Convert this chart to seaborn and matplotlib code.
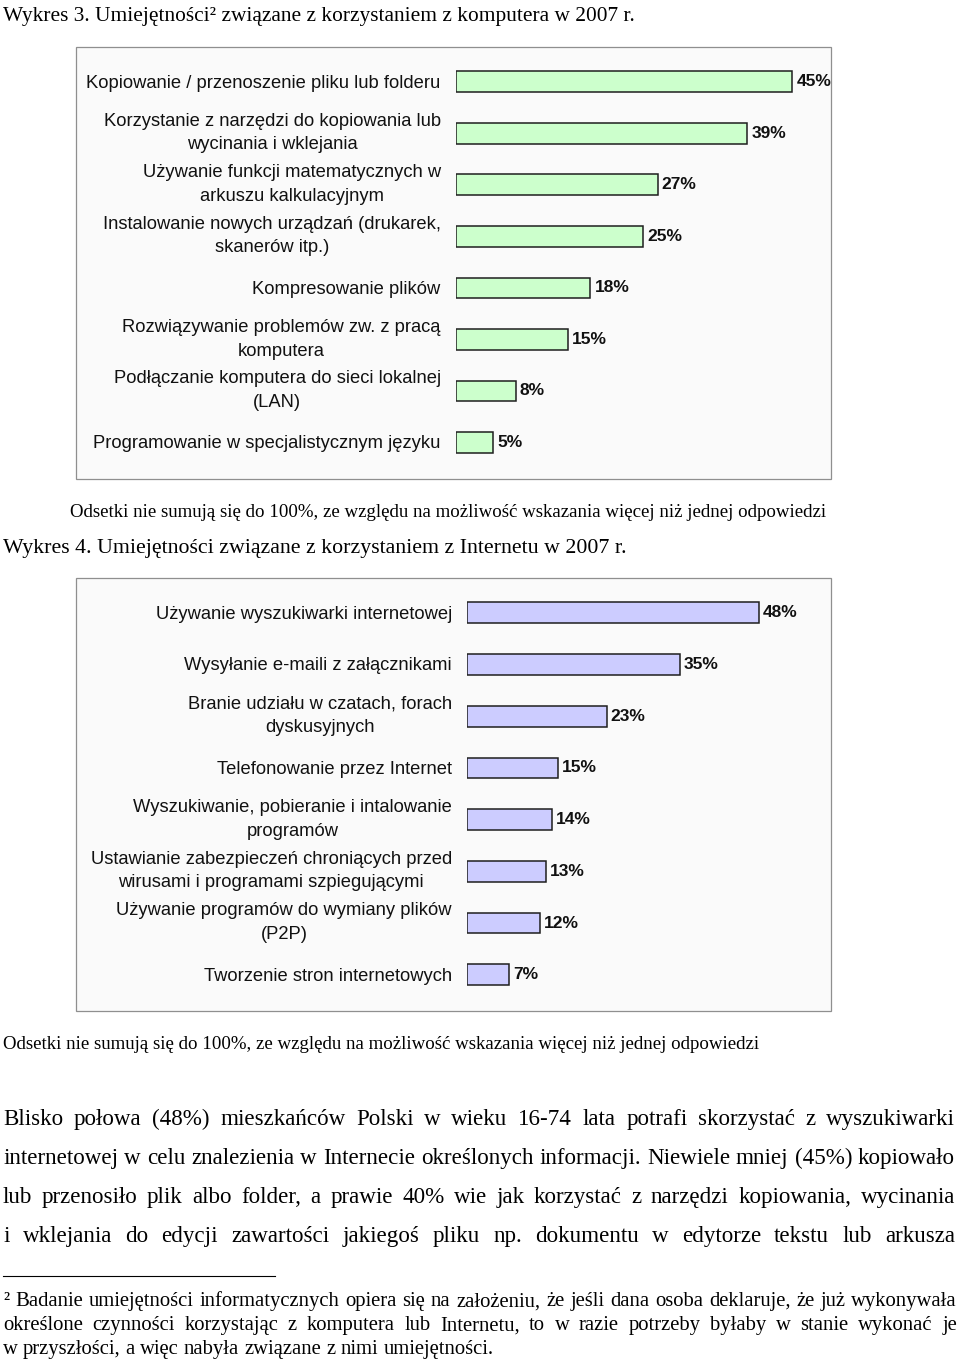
import matplotlib
matplotlib.use("Agg")
import matplotlib.pyplot as plt
import seaborn as sns
from matplotlib.patches import Rectangle
from matplotlib.lines import Line2D

# ---------------- data ----------------
comp_labels = [
    "Kopiowanie / przenoszenie pliku lub folderu",
    "Korzystanie z narzędzi do kopiowania lub\nwycinania i wklejania",
    "Używanie funkcji matematycznych w\narkuszu kalkulacyjnym",
    "Instalowanie nowych urządzań (drukarek,\nskanerów itp.)",
    "Kompresowanie plików",
    "Rozwiązywanie problemów zw. z pracą\nkomputera",
    "Podłączanie komputera do sieci lokalnej\n(LAN)",
    "Programowanie w specjalistycznym języku",
]
comp_values = [45, 39, 27, 25, 18, 15, 8, 5]

net_labels = [
    "Używanie wyszukiwarki internetowej",
    "Wysyłanie e-maili z załącznikami",
    "Branie udziału w czatach, forach\ndyskusyjnych",
    "Telefonowanie przez Internet",
    "Wyszukiwanie, pobieranie i intalowanie\nprogramów",
    "Ustawianie zabezpieczeń chroniących przed\nwirusami i programami szpiegującymi",
    "Używanie programów do wymiany plików\n(P2P)",
    "Tworzenie stron internetowych",
]
net_values = [48, 35, 23, 15, 14, 13, 12, 7]

title1 = "Wykres 3. Umiejętności² związane z korzystaniem z komputera w 2007 r."
title2 = "Wykres 4. Umiejętności związane z korzystaniem z Internetu w 2007 r."
note = "Odsetki nie sumują się do 100%, ze względu na możliwość wskazania więcej niż jednej odpowiedzi"
paragraph = [
    "Blisko połowa (48%) mieszkańców Polski w wieku 16-74 lata potrafi skorzystać z wyszukiwarki",
    "internetowej w celu znalezienia w Internecie określonych informacji. Niewiele mniej (45%) kopiowało",
    "lub przenosiło plik albo folder, a prawie 40% wie jak korzystać z narzędzi kopiowania, wycinania",
    "i wklejania do edycji zawartości jakiegoś pliku np. dokumentu w edytorze tekstu lub arkusza",
]
footnote = [
    "² Badanie umiejętności informatycznych opiera się na założeniu, że jeśli dana osoba deklaruje, że już wykonywała",
    "określone czynności korzystając z komputera lub Internetu, to w razie potrzeby byłaby w stanie wykonać je",
    "w przyszłości, a więc nabyła związane z nimi umiejętności.",
]

# ---------------- figure ----------------
W, H = 960, 1360
fig = plt.figure(figsize=(9.6, 13.6), dpi=100)
fig.patch.set_facecolor("white")
renderer = fig.canvas.get_renderer()

SERIF = "Liberation Serif"
SANS = "Liberation Sans"


def fx(x):
    return x / W


def fy(y):
    return 1 - y / H


def box(x0, y0, x1, y1):
    fig.patches.append(Rectangle((fx(x0), fy(y1)), (x1 - x0) / W, (y1 - y0) / H,
                                 transform=fig.transFigure, facecolor="#fafafa",
                                 edgecolor="#8f8f8f", lw=0.9, zorder=-5))


def text_width(s, size, family=SERIF, weight="normal"):
    t = fig.text(0, 0, s, fontsize=size, family=family, weight=weight)
    w = t.get_window_extent(renderer).width
    t.remove()
    return w


def fit_line(s, x0, x1, yc, family=SERIF):
    size = 10 * (x1 - x0) / text_width(s, 10, family)
    px = size * 100 / 72
    fig.text(fx(x0), fy(yc + 0.3 * px), s, fontsize=size, family=family, ha="left",
             va="baseline", color="black")
    return size


def justify(lines, x0, x1, ys, justified):
    target = x1 - x0
    size = min(10 * target / text_width(l, 10) for l, j in zip(lines, justified) if j) * 0.995
    px = size * 100 / 72
    space = text_width("a a", size) - text_width("aa", size)
    for line, y, j in zip(lines, ys, justified):
        words = line.split(" ")
        widths = [text_width(w, size) for w in words]
        gap = (target - sum(widths)) / (len(words) - 1) if j else space
        x = x0
        for w, wd in zip(words, widths):
            fig.text(fx(x), fy(y + 0.3 * px), w, fontsize=size, family=SERIF, ha="left",
                     va="baseline", color="black")
            x += wd + gap


def add_ax(x0, y0, x1, y1):
    return fig.add_axes([fx(x0), fy(y1), (x1 - x0) / W, (y1 - y0) / H])


def bar_chart(ax, labels, values, color, xmax, pad):
    sns.barplot(x=values, y=labels, orient="h", color=color, saturation=1,
                edgecolor="#1e1e1e", linewidth=1.1, width=0.40, ax=ax)
    ax.bar_label(ax.containers[0], labels=[f"{v}%" for v in values], padding=3,
                 fontsize=12.5, fontweight="bold", family=SANS, color="#111111")
    ax.set_xlim(0, xmax)
    ax.set_ylim(len(values) - 0.5, -0.5)
    ax.set_facecolor("none")
    for sp in ax.spines.values():
        sp.set_visible(False)
    ax.set_xticks([])
    ax.set_xlabel("")
    ax.set_ylabel("")
    ax.tick_params(axis="y", length=0, labelleft=False)
    # category labels (two-line labels sit slightly above the bar centre)
    for i, lab in enumerate(labels):
        dy = 0.2 if "\n" in lab else -1.0
        ax.annotate(lab, xy=(0, i), xycoords=("axes fraction", "data"),
                    xytext=(-pad, dy), textcoords="offset points",
                    ha="right", va="center", multialignment="center",
                    linespacing=1.52, fontsize=13.2, family=SANS, color="#111111",
                    annotation_clip=False)


# ---- chart 1 ----
fit_line(title1, 3, 632, 15)
box(76, 47, 831, 479)
ax1 = add_ax(456, 55.9, 830.7, 468.3)
bar_chart(ax1, comp_labels, comp_values, "#ccffcc", 374.7 / 7.47, 11)
fit_line(note, 70, 828, 511)

# ---- chart 2 ----
fit_line(title2, 3, 627, 546)
box(76, 578, 831, 1011)
ax2 = add_ax(466.5, 586.9, 831, 1000.6)
bar_chart(ax2, net_labels, net_values, "#ccccff", 364.5 / 6.09, 10.5)
fit_line(note, 3, 760, 1043)

# ---- body text ----
justify(paragraph, 3, 955, [1118, 1157, 1196, 1235], [True, True, True, True])
fig.add_artist(Line2D([fx(3), fx(275)], [fy(1276), fy(1276)], color="black", lw=0.8,
                      transform=fig.transFigure))
justify(footnote, 3, 957, [1300, 1324, 1348], [True, True, False])

fig.savefig("out.png", dpi=100, facecolor="white")
